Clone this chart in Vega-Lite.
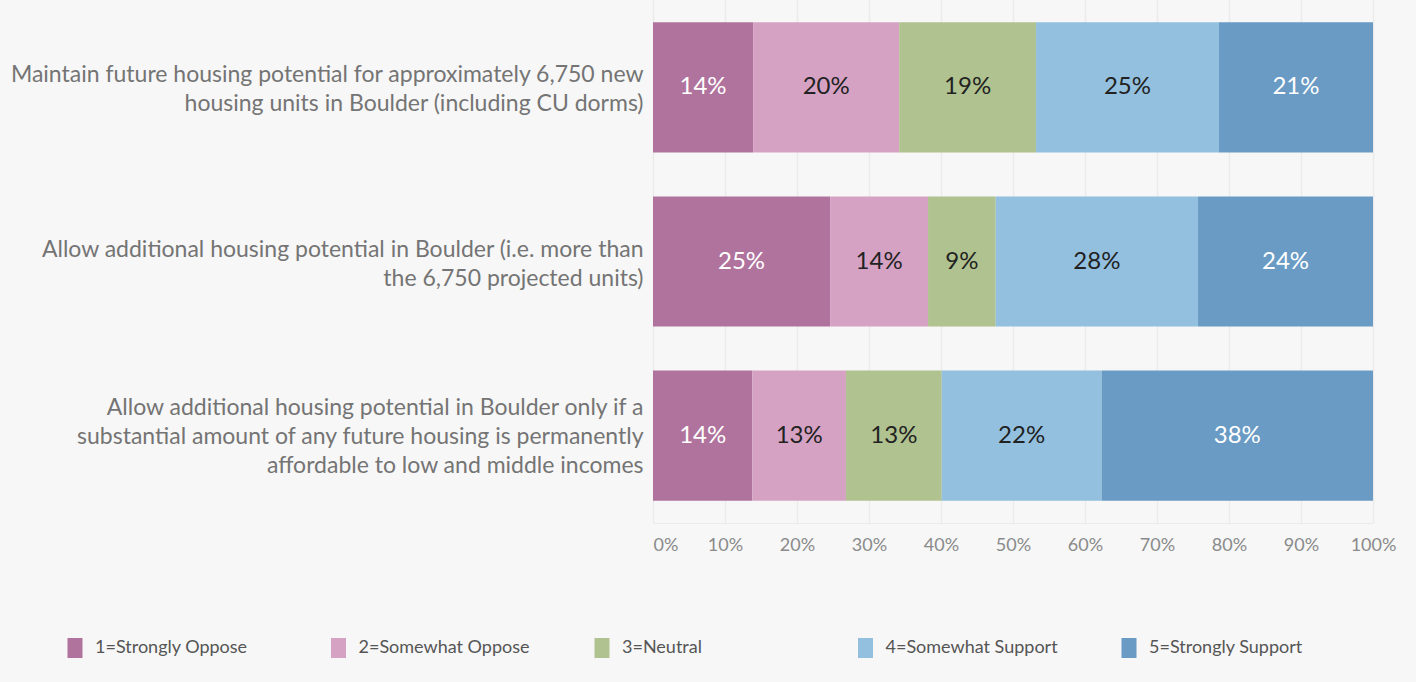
{
  "$schema": "https://vega.github.io/schema/vega-lite/v6.json",
  "autosize": {"type": "none"},
  "padding": {"left": 653, "top": 0, "right": 43, "bottom": 159},
  "width": 720,
  "height": 523,
  "background": "#f7f7f7",
  "config": {
    "view": {"stroke": null},
    "font": "Lato"
  },
  "data": {
    "values": [
      {"q": "Maintain future housing potential for approximately 6,750 new\nhousing units in Boulder (including CU dorms)", "k": 1, "r": "1=Strongly Oppose", "v": 0.139},
      {"q": "Maintain future housing potential for approximately 6,750 new\nhousing units in Boulder (including CU dorms)", "k": 2, "r": "2=Somewhat Oppose", "v": 0.203},
      {"q": "Maintain future housing potential for approximately 6,750 new\nhousing units in Boulder (including CU dorms)", "k": 3, "r": "3=Neutral", "v": 0.190},
      {"q": "Maintain future housing potential for approximately 6,750 new\nhousing units in Boulder (including CU dorms)", "k": 4, "r": "4=Somewhat Support", "v": 0.254},
      {"q": "Maintain future housing potential for approximately 6,750 new\nhousing units in Boulder (including CU dorms)", "k": 5, "r": "5=Strongly Support", "v": 0.214},
      {"q": "Allow additional housing potential in Boulder (i.e. more than\nthe 6,750 projected units)", "k": 1, "r": "1=Strongly Oppose", "v": 0.246},
      {"q": "Allow additional housing potential in Boulder (i.e. more than\nthe 6,750 projected units)", "k": 2, "r": "2=Somewhat Oppose", "v": 0.136},
      {"q": "Allow additional housing potential in Boulder (i.e. more than\nthe 6,750 projected units)", "k": 3, "r": "3=Neutral", "v": 0.094},
      {"q": "Allow additional housing potential in Boulder (i.e. more than\nthe 6,750 projected units)", "k": 4, "r": "4=Somewhat Support", "v": 0.281},
      {"q": "Allow additional housing potential in Boulder (i.e. more than\nthe 6,750 projected units)", "k": 5, "r": "5=Strongly Support", "v": 0.243},
      {"q": "Allow additional housing potential in Boulder only if a\nsubstantial amount of any future housing is permanently\naffordable to low and middle incomes", "k": 1, "r": "1=Strongly Oppose", "v": 0.138},
      {"q": "Allow additional housing potential in Boulder only if a\nsubstantial amount of any future housing is permanently\naffordable to low and middle incomes", "k": 2, "r": "2=Somewhat Oppose", "v": 0.130},
      {"q": "Allow additional housing potential in Boulder only if a\nsubstantial amount of any future housing is permanently\naffordable to low and middle incomes", "k": 3, "r": "3=Neutral", "v": 0.133},
      {"q": "Allow additional housing potential in Boulder only if a\nsubstantial amount of any future housing is permanently\naffordable to low and middle incomes", "k": 4, "r": "4=Somewhat Support", "v": 0.222},
      {"q": "Allow additional housing potential in Boulder only if a\nsubstantial amount of any future housing is permanently\naffordable to low and middle incomes", "k": 5, "r": "5=Strongly Support", "v": 0.377}
    ]
  },
  "encoding": {
    "y": {
      "field": "q",
      "type": "nominal",
      "sort": null,
      "scale": {"paddingInner": 0.253, "paddingOuter": 0.128},
      "axis": {
        "title": null,
        "ticks": false,
        "domain": false,
        "labelExpr": "split(datum.label, '\\n')",
        "labelFontSize": 23,
        "labelLineHeight": 29,
        "labelColor": "#747474",
        "labelPadding": 10,
        "labelLimit": 700,
        "labelOffset": {"condition": {"test": "length(split(datum.value, '\\n')) == 3", "value": -28}, "value": -12}
      }
    },
    "x": {
      "field": "v",
      "type": "quantitative",
      "stack": "zero",
      "scale": {"domain": [0, 1], "nice": false},
      "axis": {
        "title": null,
        "format": ".0%",
        "values": [0, 0.1, 0.2, 0.3, 0.4, 0.5, 0.6, 0.7, 0.8, 0.9, 1],
        "grid": true,
        "gridColor": "#ebebeb",
        "gridWidth": 1.5,
        "domain": true,
        "domainColor": "#ebebeb",
        "ticks": false,
        "labelFontSize": 18,
        "labelColor": "#8a8a8a",
        "labelPadding": 13,
        "labelAlign": {"condition": {"test": "datum.value == 0", "value": "left"}, "value": "center"}
      }
    },
    "order": {"field": "k", "type": "quantitative"}
  },
  "layer": [
    {
      "mark": {"type": "bar"},
      "encoding": {
        "color": {
          "field": "r",
          "type": "nominal",
          "scale": {
            "domain": ["1=Strongly Oppose", "2=Somewhat Oppose", "3=Neutral", "4=Somewhat Support", "5=Strongly Support"],
            "range": ["#b0739d", "#d6a2c4", "#b0c28f", "#93c0df", "#699bc4"]
          },
          "legend": {
            "title": null,
            "orient": "none",
            "legendX": -588,
            "legendY": 638,
            "direction": "horizontal",
            "columns": 5,
            "gridAlign": "all",
            "columnPadding": 60.5,
            "symbolType": "M-0.75,-1H0.75V1H-0.75Z",
            "symbolSize": 400,
            "symbolStrokeWidth": 0,
            "symbolOpacity": 1,
            "labelFontSize": 18,
            "labelColor": "#555555",
            "labelOffset": 10,
            "labelLimit": 300
          }
        }
      }
    },
    {
      "mark": {"type": "text", "fontSize": 24, "baseline": "middle", "align": "center"},
      "encoding": {
        "x": {"field": "v", "type": "quantitative", "stack": "zero", "bandPosition": 0.5},
        "text": {"field": "v", "type": "quantitative", "format": ".0%"},
        "color": {
          "condition": {"test": "datum.k == 1 || datum.k == 5", "value": "#ffffff"},
          "value": "#222222"
        }
      }
    }
  ]
}
